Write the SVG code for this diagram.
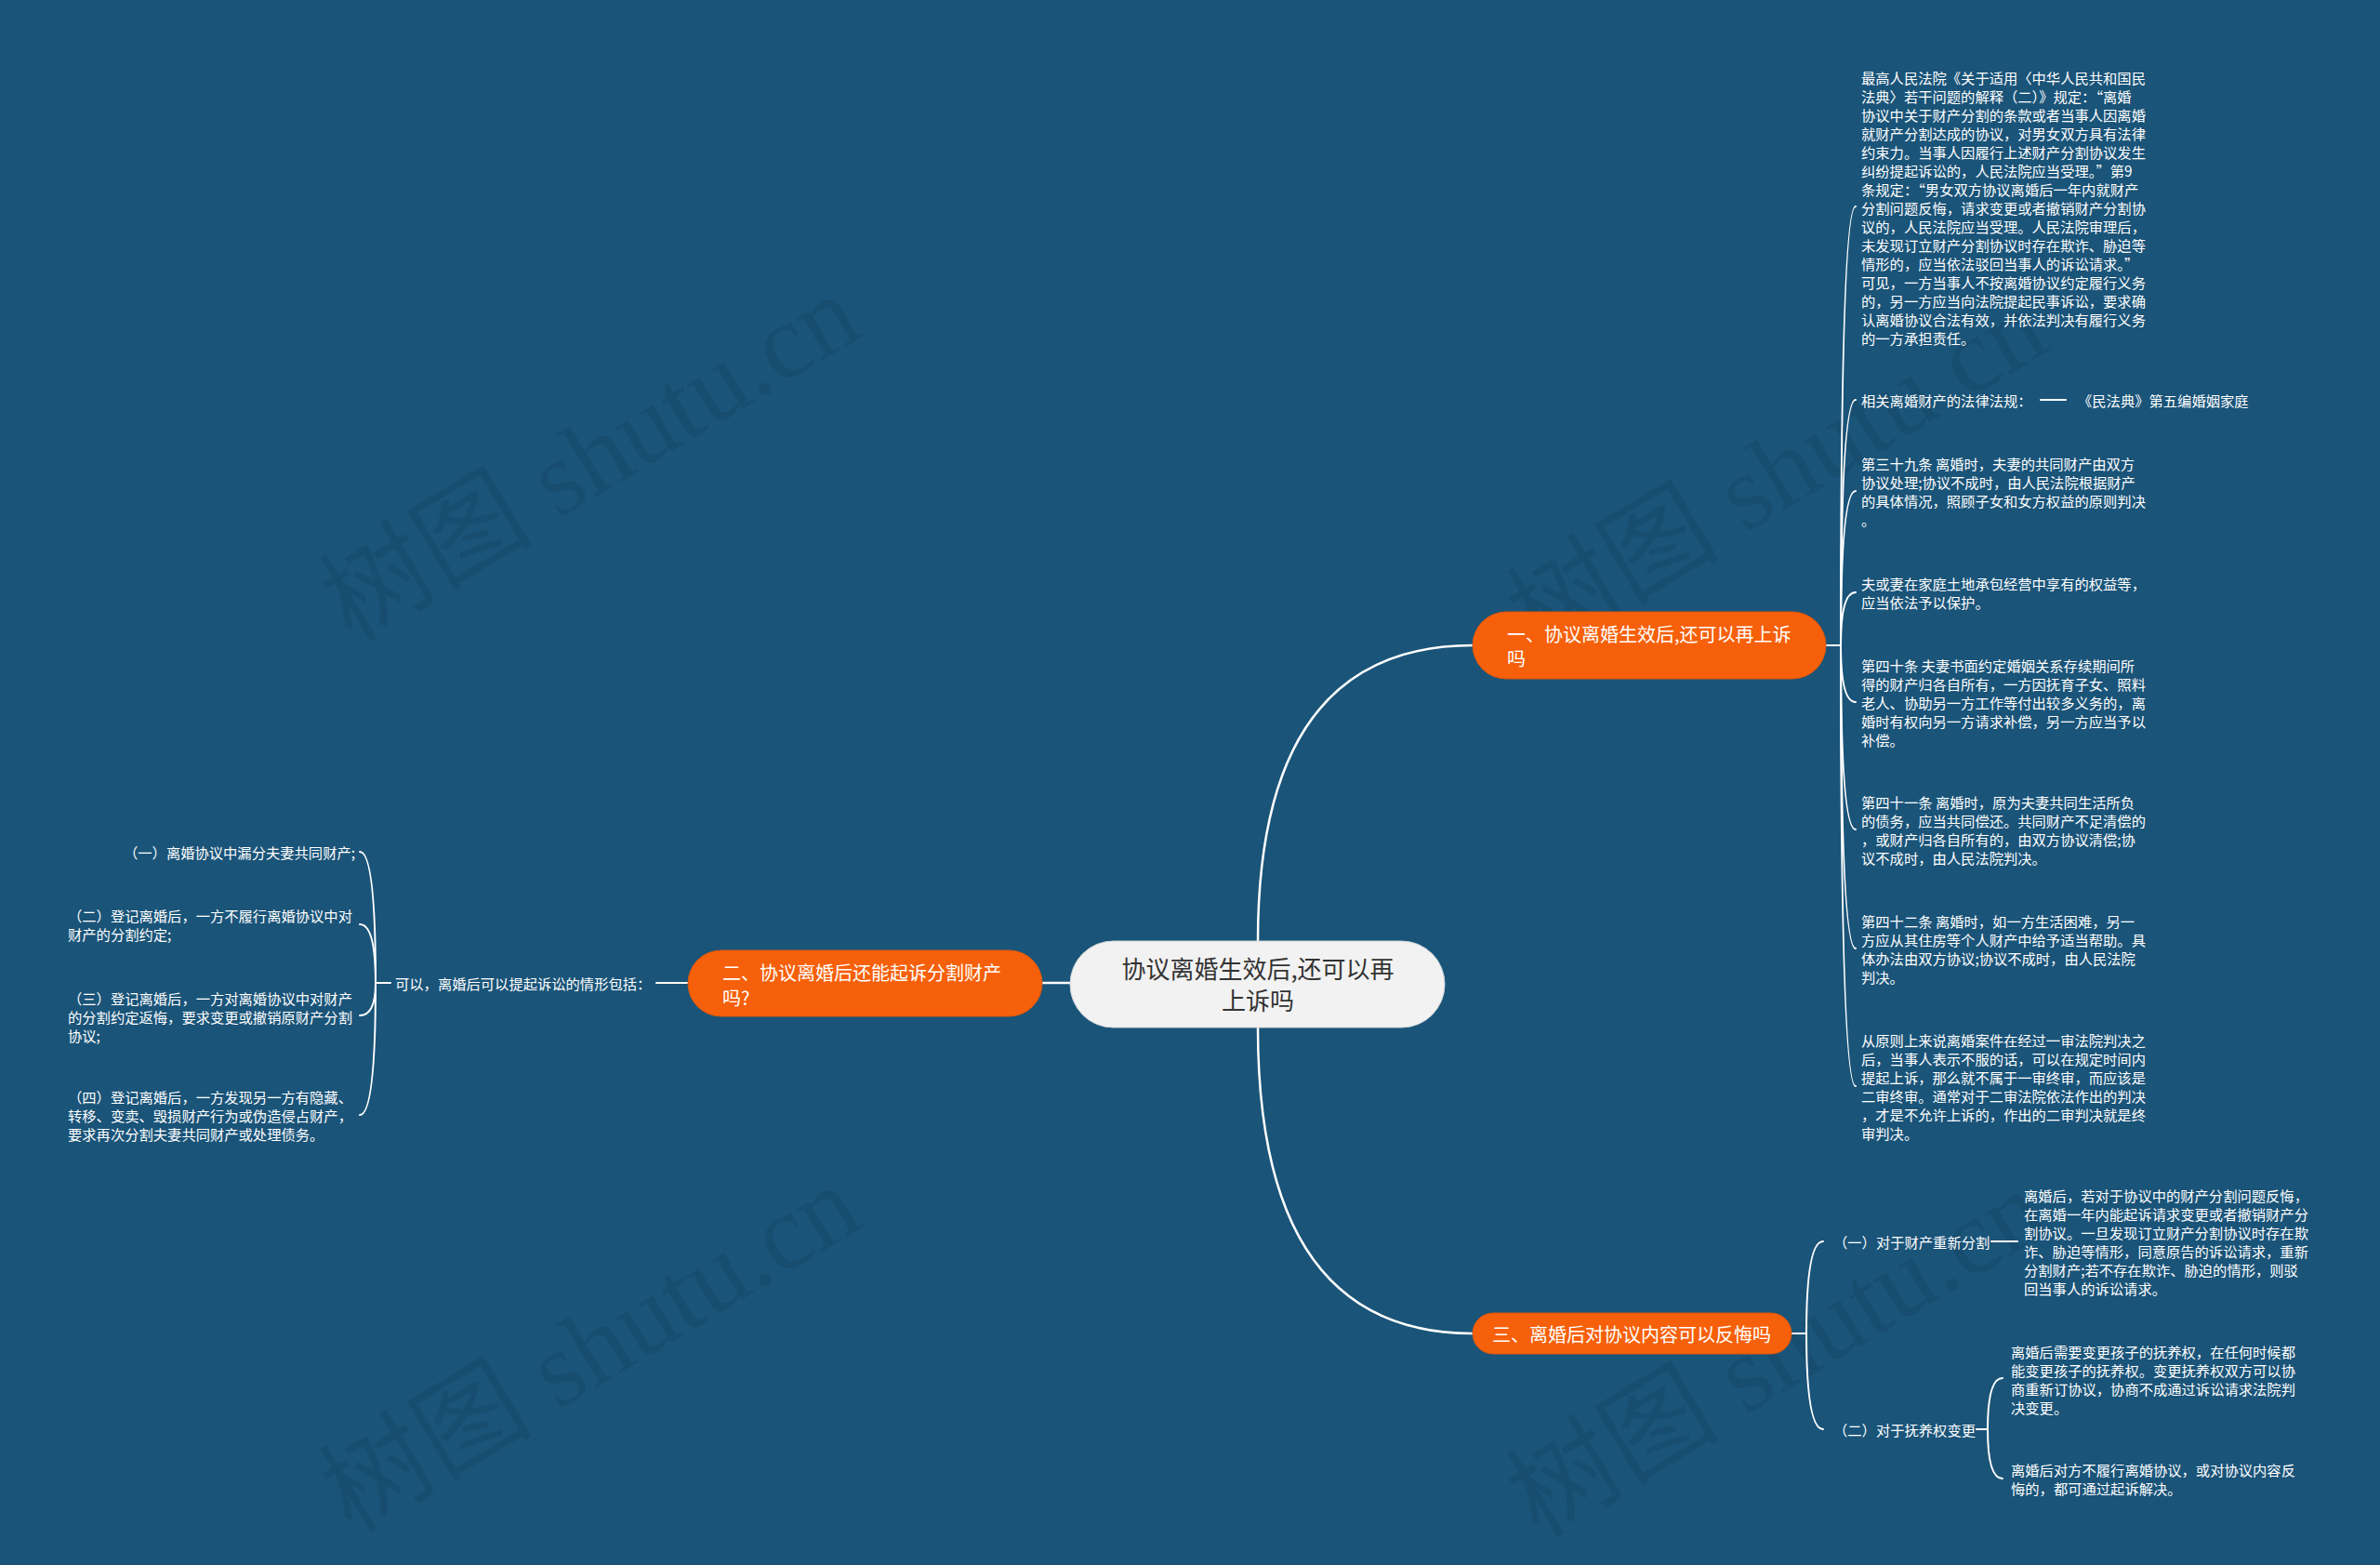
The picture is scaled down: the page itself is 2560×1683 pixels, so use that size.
<svg xmlns="http://www.w3.org/2000/svg" width="2560" height="1683" viewBox="0 0 2560 1683">
<style>
.bg{fill:#1a5479}
.wm{font-family:"Liberation Serif","Noto Sans CJK SC",serif;font-size:115px;fill:#000;fill-opacity:0.08}
.ln{fill:none;stroke:#ffffff;stroke-width:2;stroke-linecap:round}
.main{fill:none;stroke:#ffffff;stroke-width:2.5}
.org{fill:#f6600a;stroke:#d9570d;stroke-width:1}
.ctr{fill:#f2f2f2;stroke:#cfd4d8;stroke-width:1}
.t{font-family:"Noto Sans CJK SC","Liberation Sans",sans-serif;font-size:15.3px;fill:#ffffff;dominant-baseline:central}
.tb{font-family:"Noto Sans CJK SC","Liberation Sans",sans-serif;font-size:20px;fill:#ffffff;dominant-baseline:central}
.tc{font-family:"Noto Sans CJK SC","Liberation Sans",sans-serif;font-size:26px;fill:#333333;dominant-baseline:central;text-anchor:middle}
</style>
<rect class="bg" x="0" y="0" width="2560" height="1683"/>
<g id="watermarks">
<text class="wm" transform="translate(378,692) rotate(-31)">树图 shutu.cn</text>
<text class="wm" transform="translate(378,1650) rotate(-31)">树图 shutu.cn</text>
<text class="wm" transform="translate(1655,707) rotate(-31)">树图 shutu.cn</text>
<text class="wm" transform="translate(1655,1655) rotate(-31)">树图 shutu.cn</text>
</g>
<g id="connectors">
<path class="main" d="M1353,1012 Q1353,694 1584,694"/>
<path class="main" d="M1353,1105 Q1353,1434 1584,1434"/>
<path class="main" d="M1120,1057 L1151,1057"/>
<path class="ln" d="M1964,694 L1980,694"/>
<path class="ln" d="M1980,694 Q1980,222 1996,222"/>
<path class="ln" d="M1980,694 Q1980,430 1996,430"/>
<path class="ln" d="M1980,694 Q1980,528 1996,528"/>
<path class="ln" d="M1980,694 Q1980,637 1996,637"/>
<path class="ln" d="M1980,694 Q1980,755 1996,755"/>
<path class="ln" d="M1980,694 Q1980,892 1996,892"/>
<path class="ln" d="M1980,694 Q1980,1020 1996,1020"/>
<path class="ln" d="M1980,694 Q1980,1168 1996,1168"/>
<path class="ln" d="M2195,430 L2222,430"/>
<path class="ln" d="M740,1057 L706,1057"/>
<path class="ln" d="M420,1057 L404,1057"/>
<path class="ln" d="M404,1057 Q404,916 387,916"/>
<path class="ln" d="M404,1057 Q404,994 387,994"/>
<path class="ln" d="M404,1057 Q404,1092 387,1092"/>
<path class="ln" d="M404,1057 Q404,1199 387,1199"/>
<path class="ln" d="M1927,1434 L1943,1434"/>
<path class="ln" d="M1943,1434 Q1943,1335 1961,1335"/>
<path class="ln" d="M1943,1434 Q1943,1537 1961,1537"/>
<path class="ln" d="M2142,1335 L2170,1335"/>
<path class="ln" d="M2126,1537 L2138,1537"/>
<path class="ln" d="M2138,1537 Q2138,1482 2154,1482"/>
<path class="ln" d="M2138,1537 Q2138,1590 2154,1590"/>
</g>
<g id="root">
<rect class="ctr" x="1151" y="1012" width="403" height="93" rx="46.5"/>
<text class="tc" x="1353" y="1040">协议离婚生效后,还可以再</text>
<text class="tc" x="1353" y="1074">上诉吗</text>
</g>
<g id="n1">
<rect class="org" x="1584" y="658" width="380" height="72" rx="36"/>
<text class="tb" x="1621" y="681">一、协议离婚生效后,还可以再上诉</text>
<text class="tb" x="1621" y="707">吗</text>
</g>
<g id="n2">
<rect class="org" x="740" y="1022" width="381" height="71" rx="35.5"/>
<text class="tb" x="777" y="1045">二、协议离婚后还能起诉分割财产</text>
<text class="tb" x="777" y="1072">吗?</text>
</g>
<g id="n3">
<rect class="org" x="1584" y="1412" width="343" height="44" rx="22"/>
<text class="tb" x="1755" y="1434" text-anchor="middle">三、离婚后对协议内容可以反悔吗</text>
</g>
<g id="n1c1">
<text class="t" x="2002" y="83">最高人民法院《关于适用〈中华人民共和国民</text>
<text class="t" x="2002" y="103">法典〉若干问题的解释（二）》规定：“离婚</text>
<text class="t" x="2002" y="123">协议中关于财产分割的条款或者当事人因离婚</text>
<text class="t" x="2002" y="143">就财产分割达成的协议，对男女双方具有法律</text>
<text class="t" x="2002" y="163">约束力。当事人因履行上述财产分割协议发生</text>
<text class="t" x="2002" y="183">纠纷提起诉讼的，人民法院应当受理。”第9</text>
<text class="t" x="2002" y="203">条规定：“男女双方协议离婚后一年内就财产</text>
<text class="t" x="2002" y="223">分割问题反悔，请求变更或者撤销财产分割协</text>
<text class="t" x="2002" y="243">议的，人民法院应当受理。人民法院审理后，</text>
<text class="t" x="2002" y="263">未发现订立财产分割协议时存在欺诈、胁迫等</text>
<text class="t" x="2002" y="283">情形的，应当依法驳回当事人的诉讼请求。”</text>
<text class="t" x="2002" y="303">可见，一方当事人不按离婚协议约定履行义务</text>
<text class="t" x="2002" y="323">的，另一方应当向法院提起民事诉讼，要求确</text>
<text class="t" x="2002" y="343">认离婚协议合法有效，并依法判决有履行义务</text>
<text class="t" x="2002" y="363">的一方承担责任。</text>
</g>
<g id="n1c2">
<text class="t" x="2002" y="430">相关离婚财产的法律法规：</text>
</g>
<g id="n1c2a">
<text class="t" x="2235" y="430">《民法典》第五编婚姻家庭</text>
</g>
<g id="n1c3">
<text class="t" x="2002" y="498">第三十九条 离婚时，夫妻的共同财产由双方</text>
<text class="t" x="2002" y="518">协议处理;协议不成时，由人民法院根据财产</text>
<text class="t" x="2002" y="538">的具体情况，照顾子女和女方权益的原则判决</text>
<text class="t" x="2002" y="558">。</text>
</g>
<g id="n1c4">
<text class="t" x="2002" y="627">夫或妻在家庭土地承包经营中享有的权益等，</text>
<text class="t" x="2002" y="647">应当依法予以保护。</text>
</g>
<g id="n1c5">
<text class="t" x="2002" y="715">第四十条 夫妻书面约定婚姻关系存续期间所</text>
<text class="t" x="2002" y="735">得的财产归各自所有，一方因抚育子女、照料</text>
<text class="t" x="2002" y="755">老人、协助另一方工作等付出较多义务的，离</text>
<text class="t" x="2002" y="775">婚时有权向另一方请求补偿，另一方应当予以</text>
<text class="t" x="2002" y="795">补偿。</text>
</g>
<g id="n1c6">
<text class="t" x="2002" y="862">第四十一条 离婚时，原为夫妻共同生活所负</text>
<text class="t" x="2002" y="882">的债务，应当共同偿还。共同财产不足清偿的</text>
<text class="t" x="2002" y="902">，或财产归各自所有的，由双方协议清偿;协</text>
<text class="t" x="2002" y="922">议不成时，由人民法院判决。</text>
</g>
<g id="n1c7">
<text class="t" x="2002" y="990">第四十二条 离婚时，如一方生活困难，另一</text>
<text class="t" x="2002" y="1010">方应从其住房等个人财产中给予适当帮助。具</text>
<text class="t" x="2002" y="1030">体办法由双方协议;协议不成时，由人民法院</text>
<text class="t" x="2002" y="1050">判决。</text>
</g>
<g id="n1c8">
<text class="t" x="2002" y="1118">从原则上来说离婚案件在经过一审法院判决之</text>
<text class="t" x="2002" y="1138">后，当事人表示不服的话，可以在规定时间内</text>
<text class="t" x="2002" y="1158">提起上诉，那么就不属于一审终审，而应该是</text>
<text class="t" x="2002" y="1178">二审终审。通常对于二审法院依法作出的判决</text>
<text class="t" x="2002" y="1198">，才是不允许上诉的，作出的二审判决就是终</text>
<text class="t" x="2002" y="1218">审判决。</text>
</g>
<g id="n2c1">
<text class="t" x="425" y="1057">可以，离婚后可以提起诉讼的情形包括：</text>
</g>
<g id="n2c1a">
<text class="t" x="382" y="916" text-anchor="end">（一）离婚协议中漏分夫妻共同财产;</text>
</g>
<g id="n2c1b">
<text class="t" x="73" y="984">（二）登记离婚后，一方不履行离婚协议中对</text>
<text class="t" x="73" y="1004">财产的分割约定;</text>
</g>
<g id="n2c1c">
<text class="t" x="73" y="1073">（三）登记离婚后，一方对离婚协议中对财产</text>
<text class="t" x="73" y="1093">的分割约定返悔，要求变更或撤销原财产分割</text>
<text class="t" x="73" y="1113">协议;</text>
</g>
<g id="n2c1d">
<text class="t" x="73" y="1179">（四）登记离婚后，一方发现另一方有隐藏、</text>
<text class="t" x="73" y="1199">转移、变卖、毁损财产行为或伪造侵占财产，</text>
<text class="t" x="73" y="1219">要求再次分割夫妻共同财产或处理债务。</text>
</g>
<g id="n3c1">
<text class="t" x="1972" y="1335">（一）对于财产重新分割</text>
</g>
<g id="n3c1a">
<text class="t" x="2177" y="1285">离婚后，若对于协议中的财产分割问题反悔，</text>
<text class="t" x="2177" y="1305">在离婚一年内能起诉请求变更或者撤销财产分</text>
<text class="t" x="2177" y="1325">割协议。一旦发现订立财产分割协议时存在欺</text>
<text class="t" x="2177" y="1345">诈、胁迫等情形，同意原告的诉讼请求，重新</text>
<text class="t" x="2177" y="1365">分割财产;若不存在欺诈、胁迫的情形，则驳</text>
<text class="t" x="2177" y="1385">回当事人的诉讼请求。</text>
</g>
<g id="n3c2">
<text class="t" x="1972" y="1537">（二）对于抚养权变更</text>
</g>
<g id="n3c2a">
<text class="t" x="2163" y="1453">离婚后需要变更孩子的抚养权，在任何时候都</text>
<text class="t" x="2163" y="1473">能变更孩子的抚养权。变更抚养权双方可以协</text>
<text class="t" x="2163" y="1493">商重新订协议，协商不成通过诉讼请求法院判</text>
<text class="t" x="2163" y="1513">决变更。</text>
</g>
<g id="n3c2b">
<text class="t" x="2163" y="1580">离婚后对方不履行离婚协议，或对协议内容反</text>
<text class="t" x="2163" y="1600">悔的，都可通过起诉解决。</text>
</g>
</svg>
